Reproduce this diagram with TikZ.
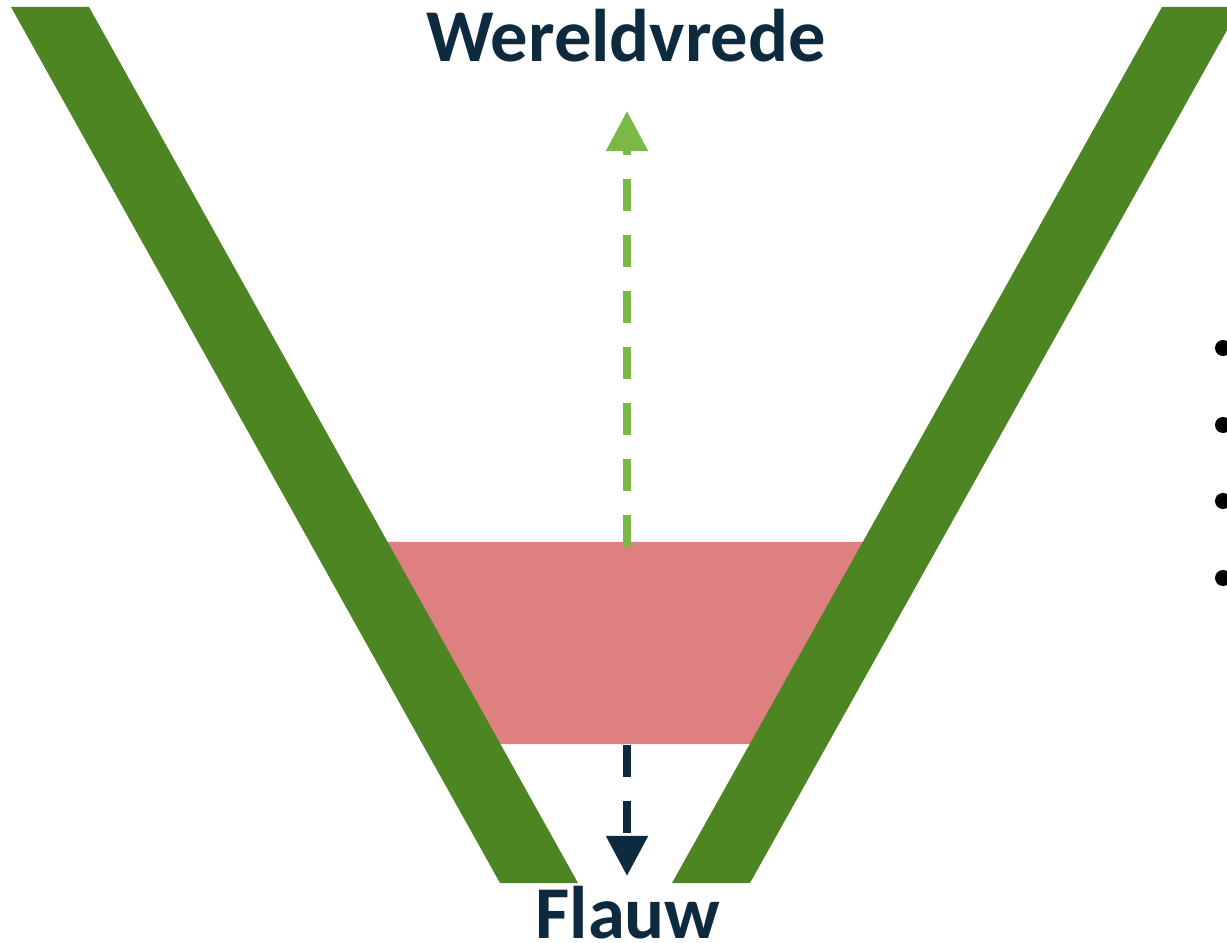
\documentclass[tikz,border=0pt]{standalone}
\usepackage{fontspec}
\setmainfont{Carlito}
\usetikzlibrary{arrows.meta}
\definecolor{bandgreen}{RGB}{76,133,34}
\definecolor{arrowgreen}{RGB}{122,184,72}
\definecolor{pinkfill}{RGB}{222,128,128}
\definecolor{navy}{RGB}{14,42,62}
\tikzset{
  band/.style={fill=bandgreen, draw=none},
  label/.style={font=\bfseries\fontsize{21.2}{25}\selectfont, text=navy, anchor=base, inner sep=0pt, text depth=0pt},
  dasharrow/.style={line width=0.08cm, dash pattern=on 0.32cm off 0.24cm, -{Triangle[length=0.4cm,width=0.4cm]}},
  bullet/.style={circle, fill=black, inner sep=0pt, minimum size=0.16cm}
}
\begin{document}
\begin{tikzpicture}[x=0.01cm, y=-0.01cm]
\useasboundingbox (0,0) rectangle (1227,943);
% pink trapezoid
\fill[pinkfill] (360,542) -- (892,542) -- (779,744) -- (474,744) -- cycle;
% green bands
\fill[band] (11,7) -- (89,7) -- (578,883) -- (500,883) -- cycle;
\fill[band] (1162,7) -- (1240,7) -- (750,883) -- (672,883) -- cycle;
% labels
\node[label] (top) at (626,62) {Wereldvrede};
\node[label] (bottom) at (628,938) {Flauw};
% arrows
\coordinate (gstart) at (627,547);
\coordinate (gend) at (627,111);
\coordinate (dstart) at (627,745);
\coordinate (dend) at (627,876);
\draw[dasharrow, draw=arrowgreen] (gstart) -- (gend);
\draw[dasharrow, draw=navy] (dstart) -- (dend);
% bullets
\node[bullet] (b1) at (1223,348) {};
\node[bullet] (b2) at (1223,425) {};
\node[bullet] (b3) at (1223,501) {};
\node[bullet] (b4) at (1223,578) {};
\end{tikzpicture}
\end{document}
